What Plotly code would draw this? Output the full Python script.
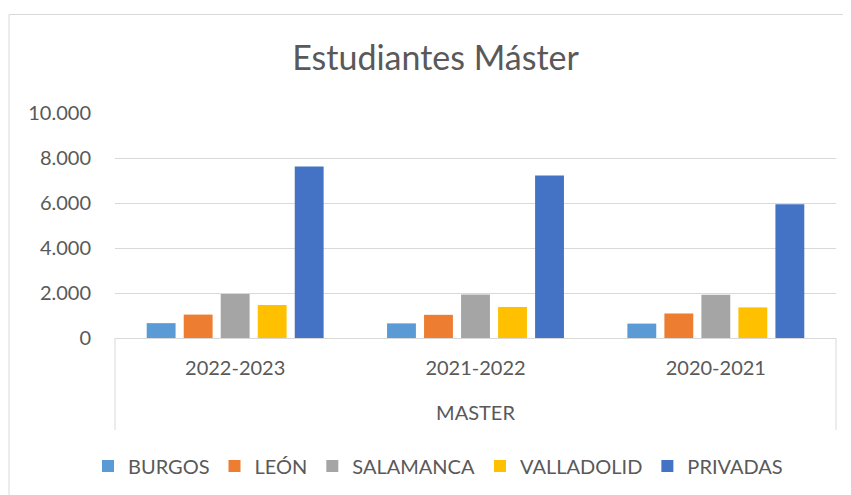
import plotly.graph_objects as go

categories = ["2022-2023", "2021-2022", "2020-2021"]
burgos = [660, 650, 640]
leon = [1040, 1030, 1090]
salamanca = [1960, 1930, 1920]
valladolid = [1470, 1380, 1360]
privadas = [7620, 7220, 5940]

series_names = ["BURGOS", "LEÓN", "SALAMANCA", "VALLADOLID", "PRIVADAS"]
series_values = [burgos, leon, salamanca, valladolid, privadas]
colors = ["#5B9BD5", "#ED7D31", "#A5A5A5", "#FFC000", "#4472C4"]

TXT = "#595959"
GRID = "#D9D9D9"
FONT = "Lato"

fig = go.Figure()
for name, vals, col in zip(series_names, series_values, colors):
    fig.add_trace(go.Bar(x=categories, y=vals, name=name,
                         marker=dict(color=col, line=dict(width=0))))

OFF = 8  # page body margin
W, H = 851 - OFF, 495 - OFF
# target plot area in screenshot pixels: x 115..836, y 113..338
L = 115 - OFF
T = 113 - OFF
R = W - (836 - OFF)
B = H - (338 - OFF)
pw = W - L - R
ph = H - T - B

def px_x(x):
    return (x - OFF - L) / pw

def px_y(y):
    return (H - B - (y - OFF)) / ph

fig.update_layout(
    width=W, height=H,
    margin=dict(l=L, r=R, t=T, b=B, autoexpand=False),
    paper_bgcolor="white", plot_bgcolor="white",
    separators=",.",
    barmode="group", bargap=0.23, bargroupgap=0.22,
    font=dict(family=FONT, color=TXT, size=20),
    title=dict(text="Estudiantes Máster", x=(435.5 - OFF) / W, xanchor="center",
               y=1 - (58 - OFF) / H, yanchor="middle", yref="container",
               font=dict(family=FONT, size=34, color=TXT)),
    xaxis=dict(showgrid=False, showline=True, linecolor=GRID, linewidth=1,
               ticks="", tickfont=dict(size=20, color=TXT),
               ticklabelstandoff=12,
               title=dict(text="MASTER", standoff=27,
                          font=dict(size=20, color=TXT))),
    yaxis=dict(range=[0, 10000], dtick=2000, tickformat=",d",
               showgrid=True, gridcolor=GRID, gridwidth=1,
               zeroline=False, showline=False, ticks="",
               ticklabelstandoff=23,
               tickfont=dict(size=20, color=TXT)),
    legend=dict(orientation="h", x=(438 - OFF) / W, xanchor="center", xref="container",
                y=1 - (466 - OFF) / H, yanchor="middle", yref="container",
                font=dict(size=20, color=TXT), itemwidth=30,
                traceorder="normal"),
    showlegend=True,
)

# chart-area border and category-axis box lines
fig.add_shape(type="rect", xref="paper", yref="paper",
              x0=px_x(9), x1=px_x(W + 30), y0=px_y(H + 30), y1=px_y(14.5),
              line=dict(color=GRID, width=1), fillcolor="rgba(0,0,0,0)", layer="below")
for xv in (0, 1):
    fig.add_shape(type="line", xref="paper", yref="paper",
                  x0=xv, x1=xv, y0=0, y1=px_y(430),
                  line=dict(color=GRID, width=1))

fig.write_html("out.html")
